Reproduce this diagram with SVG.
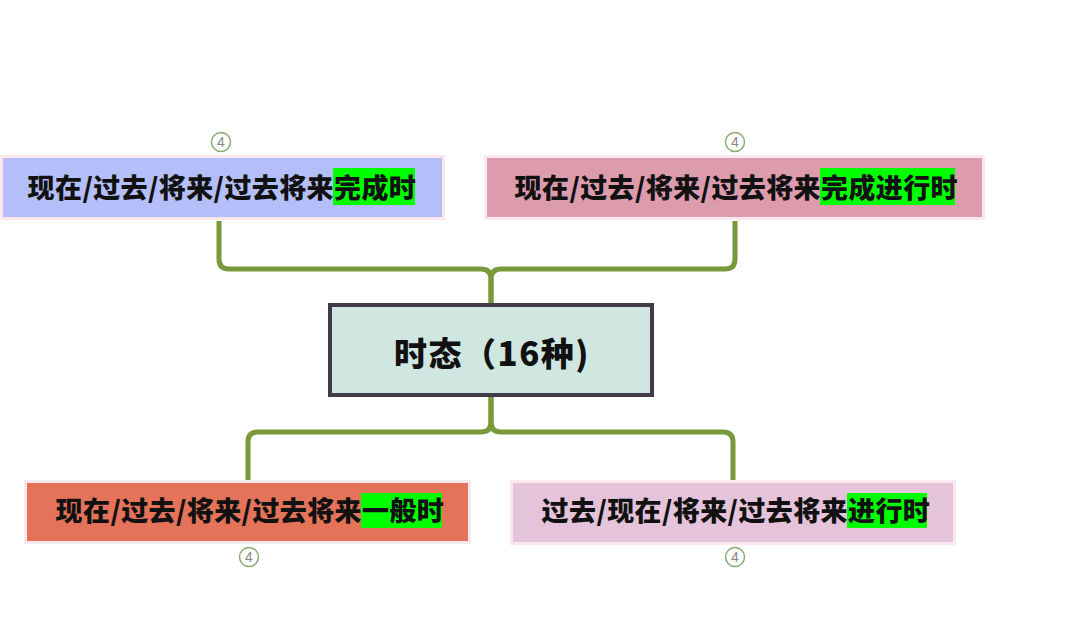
<svg xmlns="http://www.w3.org/2000/svg" width="1080" height="637" viewBox="0 0 1080 637">
<style>
.frame{fill:none;stroke:#fbe8ee;stroke-width:3}
.lbl{font-family:"Noto Sans CJK SC","Noto Sans",sans-serif;font-weight:900;font-size:27px;fill:#111;letter-spacing:0.4px}
.hl{fill:#00ff00}
.conn{fill:none;stroke:#789a3a;stroke-width:5;stroke-linecap:butt}
.badge circle{fill:#fff;stroke:#8aab74;stroke-width:1.5}
.badge text{font-family:"Liberation Sans",Arial,sans-serif;font-size:14px;fill:#888;text-anchor:middle}
</style>
<rect width="1080" height="637" fill="#ffffff"/>
<g id="connectors">
<path class="conn" d="M219,221 V259 Q219,269 229,269 H481 Q491,269 491,279 V304"/>
<path class="conn" d="M735,221 V259 Q735,269 725,269 H501 Q491,269 491,279 V304"/>
<path class="conn" d="M491,397 V422 Q491,432 481,432 H258 Q248,432 248,442 V482"/>
<path class="conn" d="M491,397 V422 Q491,432 501,432 H723 Q733,432 733,442 V482"/>
</g>
<g id="center">
<rect x="330" y="305" width="322" height="90" fill="#cfe6e1" stroke="#403b47" stroke-width="4"/>
<text x="492" y="366" text-anchor="middle" font-family="Noto Sans CJK SC, sans-serif" font-weight="900" font-size="33" letter-spacing="1.5" fill="#111">时态（16种)</text>
</g>
<g id="node-tl">
<rect class="frame" x="1.5" y="156.5" width="442" height="62"/>
<rect x="3" y="158" width="439" height="59" fill="#b4bff9"/>
<rect class="hl" x="333" y="168" width="82" height="37"/>
<text class="lbl" x="334" y="198" text-anchor="end">现在/过去/将来/过去将来</text>
<text class="lbl" x="334" y="198">完成时</text>
<g class="badge"><circle cx="221" cy="142" r="9.5"/><text x="221" y="147">4</text></g>
</g>
<g id="node-tr">
<rect class="frame" x="485.5" y="156.5" width="498" height="62"/>
<rect x="487" y="158" width="495" height="59" fill="#dd9bae"/>
<rect class="hl" x="820" y="168" width="135" height="37"/>
<text class="lbl" x="821" y="198" text-anchor="end">现在/过去/将来/过去将来</text>
<text class="lbl" x="821" y="198">完成进行时</text>
<g class="badge"><circle cx="735" cy="142" r="9.5"/><text x="735" y="147">4</text></g>
</g>
<g id="node-bl">
<rect class="frame" x="25.5" y="481.5" width="444" height="61"/>
<rect x="27" y="483" width="441" height="58" fill="#e5735a"/>
<rect class="hl" x="361" y="493" width="81" height="35"/>
<text class="lbl" x="362" y="521" text-anchor="end">现在/过去/将来/过去将来</text>
<text class="lbl" x="362" y="521">一般时</text>
<g class="badge"><circle cx="249" cy="557" r="9.5"/><text x="249" y="562">4</text></g>
</g>
<g id="node-br">
<rect class="frame" x="511.5" y="481.5" width="443" height="62"/>
<rect x="513" y="483" width="440" height="59" fill="#e5c3da"/>
<rect class="hl" x="847" y="493" width="80" height="35"/>
<text class="lbl" x="848" y="521" text-anchor="end">过去/现在/将来/过去将来</text>
<text class="lbl" x="848" y="521">进行时</text>
<g class="badge"><circle cx="735" cy="557" r="9.5"/><text x="735" y="562">4</text></g>
</g>
</svg>
